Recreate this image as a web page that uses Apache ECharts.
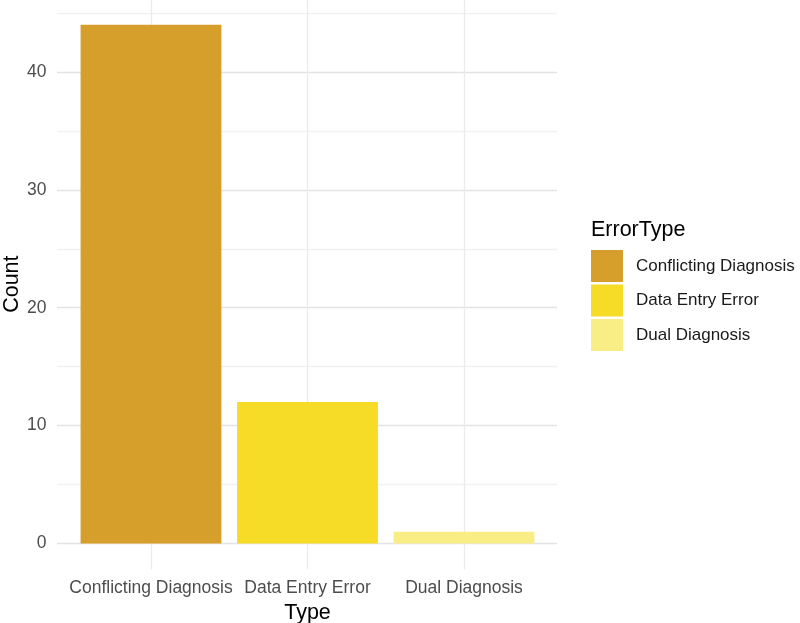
<!DOCTYPE html>
<html>
<head>
<meta charset="utf-8">
<script src="https://cdn.jsdelivr.net/npm/echarts@6/dist/echarts.min.js"></script>
<style>
  html, body { margin: 0; padding: 0; background: #fff; }
  #chart { width: 800px; height: 623px; }
</style>
</head>
<body>
<div id="chart"></div>
<script>
// 数据
var categories = ['Conflicting Diagnosis', 'Data Entry Error', 'Dual Diagnosis'];
var counts = [44, 12, 1];
var barColors = ['#D69E2B', '#F6DC26', '#F9EE86'];
var yTickStep = 5;      // 主刻度 10，次刻度 5
var yGridMax = 45;
var yMax = 46.2;
var yMin = -2.2;

var font = 'Liberation Sans';

// 每个类别一个系列，方便图例上色
var series = categories.map(function (name, i) {
  return {
    name: name,
    type: 'bar',
    xAxisIndex: 1,
    yAxisIndex: 1,
    barWidth: '90%',
    barGap: '-100%',
    itemStyle: { color: barColors[i] },
    data: counts.map(function (v, j) { return j === i ? v : null; })
  };
});

// 竖向网格线放在类别中心
series[0].markLine = {
  silent: true,
  z: 1,
  symbol: 'none',
  animation: false,
  label: { show: false },
  lineStyle: { color: '#EBEBEB', width: 1.3, type: 'solid' },
  data: categories.map(function (c) { return { xAxis: c }; })
};

var chart = echarts.init(document.getElementById('chart'));

chart.setOption({
  backgroundColor: '#fff',
  animation: false,
  textStyle: { fontFamily: font },
  title: {
    text: 'ErrorType',
    left: 591,
    top: 219,
    padding: 0,
    textStyle: { fontSize: 21.5, fontWeight: 'normal', color: '#000', fontFamily: font }
  },
  legend: {
    orient: 'vertical',
    left: 591,
    top: 250,
    padding: 0,
    itemWidth: 32,
    itemHeight: 32,
    itemGap: 2.5,
    icon: 'rect',
    data: categories,
    textStyle: { fontSize: 17, color: '#1A1A1A', padding: [0, 0, 0, 8], fontFamily: font }
  },
  grid: [
    // 水平网格线和 y 轴标签
    { left: 57, right: 243, top: 13, bottom: 79.5, outerBoundsMode: 'none' },
    // 柱子
    { left: 72.75, right: 257.75, top: -1.1, bottom: 53.6, outerBoundsMode: 'none' }
  ],
  xAxis: [
    { type: 'value', gridIndex: 0, show: false },
    {
      type: 'category',
      gridIndex: 1,
      data: categories,
      name: 'Type',
      nameLocation: 'middle',
      nameGap: 32,
      nameTextStyle: { fontSize: 21.5, color: '#000', fontFamily: font },
      axisLine: { show: false },
      axisTick: { show: false },
      splitLine: { show: false },
      axisLabel: { interval: 0, fontSize: 17.5, color: '#4D4D4D', margin: 10, fontFamily: font }
    }
  ],
  yAxis: [
    {
      type: 'value',
      gridIndex: 0,
      min: 0,
      max: yGridMax,
      interval: yTickStep,
      axisLine: { show: false },
      axisTick: { show: false },
      axisLabel: {
        fontSize: 17.5,
        color: '#4D4D4D',
        margin: 10.5,
        fontFamily: font,
        formatter: function (v) { return v % 10 === 0 ? String(v) : ''; }
      },
      splitLine: { lineStyle: { color: ['#E4E4E4', '#F1F1F1'], width: 1.4 } }
    },
    {
      type: 'value',
      gridIndex: 1,
      min: yMin,
      max: yMax,
      name: 'Count',
      nameLocation: 'middle',
      nameGap: 50,
      nameTextStyle: { fontSize: 21.5, color: '#000', fontFamily: font },
      axisLine: { show: false },
      axisTick: { show: false },
      axisLabel: { show: false },
      splitLine: { show: false }
    }
  ],
  series: series
});
</script>
</body>
</html>
